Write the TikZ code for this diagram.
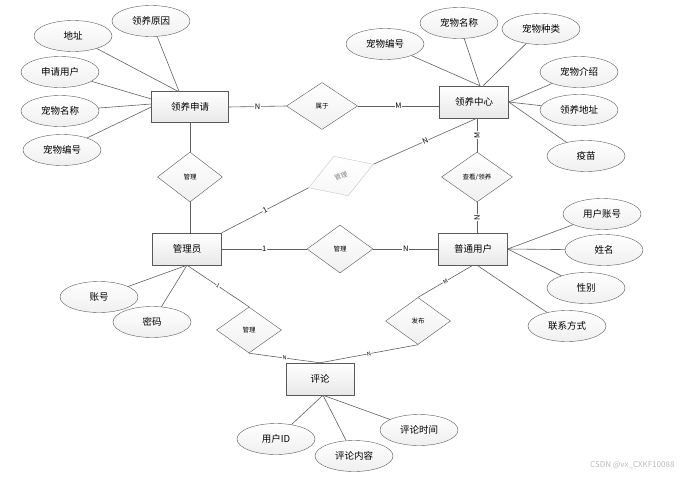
\documentclass[tikz,border=0pt]{standalone}
\usepackage{fontspec}
\setmainfont{Noto Sans CJK SC}
\usetikzlibrary{shapes.geometric}
\tikzset{
  entity/.style={rectangle, draw=gray!70!black, top color=white, bottom color=gray!18,
    minimum width=69pt, minimum height=32pt, font=\fontsize{9.5}{11}\selectfont},
  attr/.style={ellipse, draw=gray!70!black, top color=white, bottom color=gray!12,
    minimum width=78pt, minimum height=31pt, inner sep=0pt, font=\fontsize{9.5}{11}\selectfont},
  rel/.style={diamond, draw=gray!70!black, top color=white, bottom color=gray!12,
    minimum width=66pt, minimum height=48pt, inner sep=0pt, font=\fontsize{6.5}{7}\selectfont},
  card/.style={fill=white, inner sep=0.6pt, font=\fontsize{7.5}{8}\selectfont},
  cardsm/.style={fill=white, inner sep=0.4pt, font=\fontsize{5.5}{6}\selectfont},
  link/.style={draw=gray!75!black, line width=0.6pt}
}
\begin{document}
\begin{tikzpicture}[x=1pt, y=-1pt]
      \useasboundingbox (0,0) rectangle (688,479);
      % Define nodes
      \node[entity, minimum width=77pt, minimum height=31pt] (apply) at (190,107) {领养申请};
      \node[entity] (center) at (474,102) {领养中心};
      \node[entity] (admin) at (187,249) {管理员};
      \node[entity] (user) at (473,249) {普通用户};
      \node[entity, minimum width=68pt] (cmt) at (320,379) {评论};
      \node[rel, minimum width=71pt, minimum height=47pt] (belong) at (322,106) {属于};
      \node[rel, minimum width=65pt, minimum height=50pt] (mgA) at (190,177) {管理};
      \node[rel, draw=gray!45, bottom color=gray!6, text=gray, rotate=20,
            minimum width=69pt, minimum height=42pt] (mgB) at (341,176) {管理};
      \node[rel, minimum width=71pt, minimum height=50pt] (view) at (477,177) {查看/领养};
      \node[rel] (mgC) at (340,249) {管理};
      \node[rel, minimum width=65pt, minimum height=46pt] (mgD) at (249,330) {管理};
      \node[rel, minimum width=65pt, minimum height=47pt] (post) at (418,321) {发布};
      \node[attr] (addr) at (73,36) {地址};
      \node[attr] (reason) at (151,21) {领养原因};
      \node[attr] (applicant) at (60,72) {申请用户};
      \node[attr] (petname) at (60,111) {宠物名称};
      \node[attr] (petno) at (62,150) {宠物编号};
      \node[attr] (cpetno) at (385,44) {宠物编号};
      \node[attr] (cpetname) at (459,23) {宠物名称};
      \node[attr] (kind) at (541,29) {宠物种类};
      \node[attr] (intro) at (579,72) {宠物介绍};
      \node[attr] (place) at (579,110) {领养地址};
      \node[attr] (vaccine) at (586,156) {疫苗};
      \node[attr] (account) at (99,297) {账号};
      \node[attr] (pwd) at (152,322) {密码};
      \node[attr] (uacc) at (602,214) {用户账号};
      \node[attr] (uname) at (604,250) {姓名};
      \node[attr] (sex) at (586,288) {性别};
      \node[attr] (phone) at (567,326) {联系方式};
      \node[attr] (uid) at (276,439) {用户ID};
      \node[attr] (content) at (354,456) {评论内容};
      \node[attr] (ctime) at (419,430) {评论时间};
      \node[text=gray!55, font=\fontsize{8}{9}\selectfont, anchor=east] (mark) at (678,465) {CSDN @vx\_CXKF10088};
      % Connect nodes
      \draw[link] (addr) -- ([xshift=-12pt]apply.north);
      \draw[link] (reason) -- ([xshift=-11pt]apply.north);
      \draw[link] (applicant) -- ([yshift=8pt]apply.west);
      \draw[link] (petname) -- ([yshift=3pt]apply.west);
      \draw[link] (petno) -- (apply.west);
      \draw[link] (cpetno) -- ([xshift=6pt]center.north);
      \draw[link] (cpetname) -- ([xshift=6pt]center.north);
      \draw[link] (kind) -- ([xshift=9pt]center.north);
      \draw[link] (intro) -- (center.east);
      \draw[link] (place) -- (center.east);
      \draw[link] (vaccine) -- (center.east);
      \draw[link] (account) -- (admin.south);
      \draw[link] (pwd) -- (admin.south);
      \draw[link] (uacc) -- (user.east);
      \draw[link] (uname) -- (user.east);
      \draw[link] (sex) -- (user.east);
      \draw[link] (phone) -- ([xshift=4pt]user.south);
      \draw[link] (uid) -- ([xshift=3pt]cmt.south);
      \draw[link] (content) -- ([xshift=3pt]cmt.south);
      \draw[link] (ctime) -- ([xshift=3pt]cmt.south);
      \draw[link] (apply.east) -- node[card] {N} (belong.west);
      \draw[link] (belong.east) -- node[card] {M} (belong.east -| center.west);
      \draw[link] (apply.south) -- (mgA.north);
      \draw[link] (mgA.south) -- (mgA.south |- admin.north);
      \draw[link] (admin.north east) -- node[card, sloped] {1} (mgB.west);
      \draw[link] (mgB.east) -- node[card, sloped] {N} ([xshift=3pt]center.south);
      \draw[link] ([xshift=3pt]center.south) -- node[card, rotate=90] {M} (view.north);
      \draw[link] (view.south) -- node[card, rotate=90] {N} (view.south |- user.north);
      \draw[link] (admin.east) -- node[card] {1} (mgC.west);
      \draw[link] (mgC.east) -- node[card] {N} (user.west);
      \draw[link] (admin.south) -- node[cardsm, sloped] {1} (mgD.north);
      \draw[link] (mgD.south) -- node[cardsm, sloped] {N} (cmt.north);
      \draw[link] (user.south) -- node[cardsm, sloped] {M} (post.north);
      \draw[link] (post.south) -- node[cardsm, sloped] {N} (cmt.north);
    \end{tikzpicture}
\end{document}
